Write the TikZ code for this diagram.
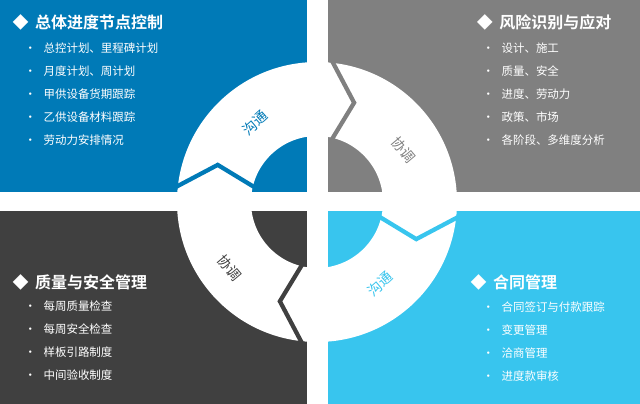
\documentclass[tikz,border=0pt]{standalone}
\usepackage{fontspec}
\setmainfont{Noto Sans CJK SC}[BoldFont={Noto Sans CJK SC Bold}]
\definecolor{bleu}{RGB}{0,122,183}
\definecolor{gris}{RGB}{128,128,128}
\definecolor{fonce}{RGB}{64,64,64}
\definecolor{ciel}{RGB}{56,197,238}
\tikzset{titre/.style={text=white,font=\bfseries\fontsize{12}{14}\selectfont,anchor=west},
         item/.style={text=white,font=\fontsize{8.6}{10}\selectfont,anchor=west},
         mot/.style={font=\fontsize{10.5}{12}\selectfont}}
% quadrant: colour, turn k, corner, opposite corner
\newcommand{\quadrant}[4]
{\fill[#1] #3 rectangle #4;
 \begin{scope}
   \clip #3 rectangle #4;
   \fill[white,even odd rule] (317,202) circle (140) (317,202) circle (66);
   \draw[#1,line width=3.2pt,line join=miter]
     ([shift={(317,202)}] {90*#2-175}:146) -- ([shift={(317,202)}] {90*#2-159.5}:106)
     -- ([shift={(317,202)}] {90*#2-168}:60);
 \end{scope}}
\newcommand{\liste}[3]
{\foreach \t [count=\i from 0] in {#3}
   \node[item] at (#1,{#2+23*\i}) {•\hspace{0.65em}\t};}
\begin{document}
\begin{tikzpicture}[x=0.75pt,y=-0.75pt]
  \useasboundingbox (0,0) rectangle (640,404);
  \quadrant{bleu}{0}{(0,0)}{(307,192)}
  \quadrant{gris}{1}{(328,0)}{(640,192)}
  \quadrant{ciel}{2}{(328,211)}{(640,404)}
  \quadrant{fonce}{3}{(0,211)}{(307,404)}
  \node[mot,text=bleu,rotate=42] (m1) at (255,123) {沟通};
  \node[mot,text=gris,rotate=-50] (m2) at (404,150) {协调};
  \node[mot,text=ciel,rotate=42] (m3) at (380,284) {沟通};
  \node[mot,text=fonce,rotate=-50] (m4) at (230,268) {协调};
  \node[titre] (t1) at (8,22) {◆\hspace{0.4em}总体进度节点控制};
  \node[titre,anchor=east] (t2) at (616,22) {◆\hspace{0.4em}风险识别与应对};
  \node[titre] (t3) at (8,282) {◆\hspace{0.4em}质量与安全管理};
  \node[titre] (t4) at (466,282) {◆\hspace{0.4em}合同管理};
  \liste{20}{48}{总控计划、里程碑计划,月度计划、周计划,甲供设备货期跟踪,乙供设备材料跟踪,劳动力安排情况}
  \liste{478}{48}{设计、施工,质量、安全,进度、劳动力,政策、市场,各阶段、多维度分析}
  \liste{20}{306}{每周质量检查,每周安全检查,样板引路制度,中间验收制度}
  \liste{478}{307}{合同签订与付款跟踪,变更管理,洽商管理,进度款审核}
\end{tikzpicture}
\end{document}
